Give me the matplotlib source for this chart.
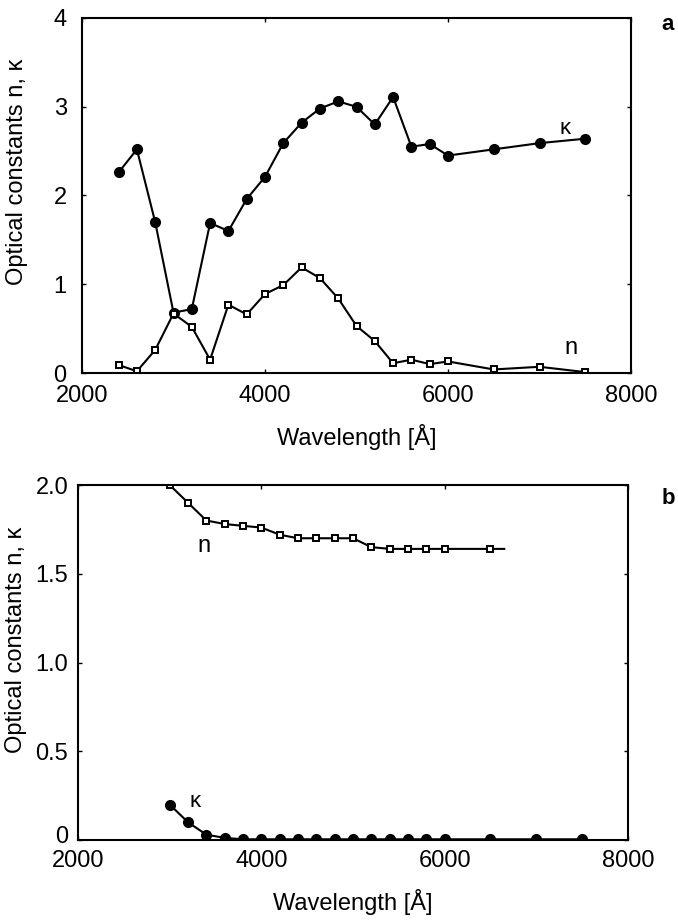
import matplotlib
matplotlib.use("Agg")
import matplotlib.pyplot as plt
import matplotlib.transforms as mtransforms

plt.rcParams['font.family'] = ['Liberation Sans', 'DejaVu Sans']

# Panel a: optical constants vs wavelength
wl_a = [2400, 2600, 2800, 3000, 3200, 3400, 3600, 3800, 4000, 4200, 4400,
        4600, 4800, 5000, 5200, 5400, 5600, 5800, 6000, 6500, 7000, 7500]
kappa_a = [2.26, 2.52, 1.70, 0.68, 0.72, 1.69, 1.60, 1.96, 2.21, 2.59, 2.82,
           2.98, 3.06, 3.00, 2.80, 3.11, 2.55, 2.58, 2.45, 2.52, 2.59, 2.64]
n_a = [0.09, 0.02, 0.26, 0.67, 0.52, 0.15, 0.77, 0.66, 0.89, 0.99, 1.19,
       1.07, 0.84, 0.53, 0.36, 0.11, 0.15, 0.10, 0.13, 0.04, 0.07, 0.01]

# Panel b
wl_b_n = [3000, 3200, 3400, 3600, 3800, 4000, 4200, 4400, 4600, 4800, 5000,
          5200, 5400, 5600, 5800, 6000, 6500, 6650]
n_b = [2.00, 1.90, 1.80, 1.78, 1.77, 1.76, 1.72, 1.70, 1.70, 1.70, 1.70,
       1.65, 1.64, 1.64, 1.64, 1.64, 1.64, 1.64]
wl_b_k = [3000, 3200, 3400, 3600, 3800, 4000, 4200, 4400, 4600, 4800, 5000,
          5200, 5400, 5600, 5800, 6000, 6500, 7000, 7500]
kappa_b = [0.20, 0.10, 0.03, 0.012, 0.004, 0.004, 0.004, 0.004, 0.004, 0.004,
           0.004, 0.004, 0.004, 0.004, 0.004, 0.004, 0.004, 0.004, 0.004]

xticks = [2000, 4000, 6000, 8000]
yticks_a = [0, 1, 2, 3, 4]
yticks_b = [0, 0.5, 1.0, 1.5, 2.0]
yticklabels_b = ['0', '0.5', '1.0', '1.5', '2.0']

W, H = 678, 922
fig = plt.figure(figsize=(W / 100, H / 100), dpi=100)


def px_axes(left, top, right, bottom):
    return fig.add_axes([left / W, 1 - bottom / H, (right - left) / W, (bottom - top) / H])


ax_a = px_axes(82, 18, 631, 373)
ax_b = px_axes(78, 485, 628, 840)

line_kw = dict(color='black', linewidth=1.5)
circ_kw = dict(marker='o', markersize=7, markerfacecolor='black',
               markeredgecolor='black')
sq_kw = dict(marker='s', markersize=4.5, markerfacecolor='white',
             markeredgecolor='black', markeredgewidth=1.4)

ax_a.plot(wl_a, kappa_a, **line_kw, **circ_kw)
ax_a.plot(wl_a, n_a, **line_kw, **sq_kw)

ax_b.plot(wl_b_n, n_b, **line_kw, **sq_kw, markevery=list(range(len(wl_b_n) - 1)))
ax_b.plot(wl_b_k, kappa_b, **line_kw, **circ_kw)

for ax in (ax_a, ax_b):
    ax.set_xlim(2000, 8000)
    ax.set_xticks(xticks)
    for sp in ax.spines.values():
        sp.set_linewidth(1.5)
    ax.tick_params(direction='in', length=3, width=1, top=True, right=True,
                   labelsize=17)
    ax.set_ylabel('Optical constants n, κ', fontsize=17)
    ax.set_xlabel('Wavelength [Å]', fontsize=17)
    ax.xaxis.label.set_va('center')
    ax.yaxis.label.set_va('center')

ax_a.set_ylim(0, 4)
ax_a.set_yticks(yticks_a)
ax_a.tick_params(axis='y', pad=11)
ax_a.tick_params(axis='x', pad=9)
ax_a.xaxis.set_label_coords(0.5, -0.18)
ax_a.yaxis.set_label_coords(-0.118, 0.566)

ax_b.set_ylim(0, 2.0)
ax_b.set_yticks(yticks_b)
ax_b.set_yticklabels(yticklabels_b)
ax_b.tick_params(axis='y', pad=7)
ax_b.tick_params(axis='x', pad=7)
ax_b.xaxis.set_label_coords(0.5, -0.175)
ax_b.yaxis.set_label_coords(-0.113, 0.563)

# Lift the lowest y tick label of panel b so it clears the x tick labels
lift = mtransforms.ScaledTranslation(0, 6 / 100, fig.dpi_scale_trans)
lbl = ax_b.get_yticklabels()[0]
lbl.set_transform(lbl.get_transform() + lift)

# Curve labels
ax_a.text(7280, 2.76, 'κ', fontsize=16, ha='center', va='center')
ax_a.text(7340, 0.28, 'n', fontsize=17, ha='center', va='center')
ax_b.text(3280, 0.215, 'κ', fontsize=16, ha='center', va='center')
ax_b.text(3370, 1.655, 'n', fontsize=17, ha='center', va='center')

# Panel letters
fig.text(668 / W, 1 - 25 / H, 'a', fontsize=16, fontweight='bold',
         ha='center', va='center')
fig.text(668 / W, 1 - 498 / H, 'b', fontsize=16, fontweight='bold',
         ha='center', va='center')

fig.savefig('out.png', dpi=100)
